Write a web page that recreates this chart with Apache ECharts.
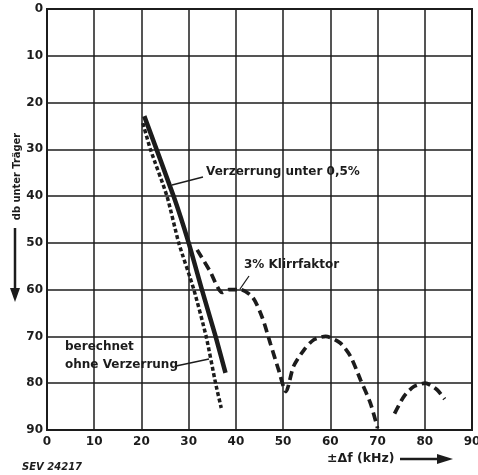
<!DOCTYPE html>
<html>
<head>
<meta charset="utf-8">
<script src="https://cdn.jsdelivr.net/npm/echarts@6/dist/echarts.min.js"></script>
<style>
html,body{margin:0;padding:0;background:#fff;}
#c{width:478px;height:475px;}
</style>
</head>
<body>
<div id="c"></div>
<script>
// Tick labels
var xTicks = [0,10,20,30,40,50,60,70,80,90];
var yTicks = [0,10,20,30,40,50,60,70,80,90];

// "Verzerrung unter 0,5%" (solid)
var solidX = [20.6, 26.8, 30.0, 32.8, 35.7, 37.8];
var solidY = [22.9, 40.0, 50.0, 60.0, 70.0, 77.8];

// "berechnet ohne Verzerrung" (dotted)
var calcX = [20.3, 21.9, 25.4, 27.9, 31.1, 33.7, 35.7, 36.9];
var calcY = [24.4, 30.0, 40.0, 50.0, 60.0, 70.0, 80.0, 85.3];

// "3% Klirrfaktor" (dashed); null = gap
var klirrX = [31.8, 34.5, 37.1, 38.5, 41.0, 43.6, 45.6, 47.3, 49.0, 50.6, 52.2, 54.4, 56.5, 59.0, 62.1, 64.3, 66.4, 68.5, 70.0, 72.0, 73.6, 75.6, 77.7, 80.1, 82.6, 84.2];
var klirrY = [51.5, 56.0, 60.6, 60.0, 60.0, 61.7, 66.0, 71.5, 77.0, 81.8, 76.4, 72.9, 70.7, 70.0, 71.4, 74.3, 79.3, 84.3, 89.6, null, 86.5, 82.8, 80.7, 80.0, 81.4, 83.4];

function pairs(xs, ys){ return xs.map(function(x,i){ return [x, ys[i]]; }); }

var INK = '#1c1c1c';
var FONT = 'DejaVu Sans';
var chart = echarts.init(document.getElementById('c'), null, {renderer:'canvas'});
chart.setOption({
  backgroundColor: '#ffffff',
  animation: false,
  grid: {left: 47, right: 6, top: 9, bottom: 45, containLabel: false, outerBoundsMode: 'none',
         show: true, borderColor: INK, borderWidth: 2},
  xAxis: {
    type: 'value', min: xTicks[0], max: xTicks[xTicks.length-1], interval: 10,
    axisLine: {show: true, onZero: false, lineStyle: {color: INK, width: 2}},
    axisTick: {show: false},
    splitLine: {show: true, lineStyle: {color: INK, width: 1.5}},
    axisLabel: {color: INK, fontFamily: FONT, fontWeight: 'bold', fontSize: 12, margin: 6}
  },
  yAxis: {
    type: 'value', inverse: true, min: yTicks[0], max: yTicks[yTicks.length-1], interval: 10,
    axisLine: {show: true, onZero: false, lineStyle: {color: INK, width: 2}},
    axisTick: {show: false},
    splitLine: {show: true, lineStyle: {color: INK, width: 1.5}},
    axisLabel: {color: INK, fontFamily: FONT, fontWeight: 'bold', fontSize: 12, margin: 4}
  },
  series: [
    {type:'line', name:'Verzerrung unter 0,5%', data: pairs(solidX, solidY), showSymbol:false, smooth:0.2,
     lineStyle:{color: INK, width: 4.5, type:'solid', cap:'butt'}},
    {type:'line', name:'berechnet ohne Verzerrung', data: pairs(calcX, calcY), showSymbol:false, smooth:0.2,
     lineStyle:{color: INK, width: 3.5, type:[4,2.5], cap:'butt'}},
    {type:'line', name:'3% Klirrfaktor', data: pairs(klirrX, klirrY), showSymbol:false, connectNulls:false, smooth:0.25,
     lineStyle:{color: INK, width: 3.7, type:[9,5], cap:'butt'}}
  ],
  graphic: [
    // annotations
    {type:'rect', shape:{x:204,y:165,width:156,height:17}, style:{fill:'#fff'}},
    {type:'text', left:206, top:166, style:{text:'Verzerrung unter 0,5%', font:'bold 12px "'+FONT+'"', fill:INK}},
    {type:'line', shape:{x1:172,y1:185,x2:203,y2:177}, style:{stroke:INK, lineWidth:1.3}},
    {type:'rect', shape:{x:242,y:258,width:96,height:17}, style:{fill:'#fff'}},
    {type:'text', left:244, top:259, style:{text:'3% Klirrfaktor', font:'bold 12px "'+FONT+'"', fill:INK}},
    {type:'line', shape:{x1:240,y1:289,x2:249,y2:276}, style:{stroke:INK, lineWidth:1.3}},
    {type:'rect', shape:{x:63,y:340,width:70,height:17}, style:{fill:'#fff'}},
    {type:'rect', shape:{x:63,y:358,width:112,height:17}, style:{fill:'#fff'}},
    {type:'text', left:65, top:341, style:{text:'berechnet', font:'bold 12px "'+FONT+'"', fill:INK}},
    {type:'text', left:65, top:359, style:{text:'ohne Verzerrung', font:'bold 12px "'+FONT+'"', fill:INK}},
    {type:'line', shape:{x1:176,y1:366,x2:209,y2:359}, style:{stroke:INK, lineWidth:1.3}},
    // y axis title with arrow
    {type:'text', x:17, y:176.5, rotation:Math.PI/2, style:{text:'db unter Träger', font:'bold 11px "DejaVu Sans Condensed"', fill:INK, align:'center', verticalAlign:'middle'}},
    {type:'line', shape:{x1:15,y1:228,x2:15,y2:292}, style:{stroke:INK, lineWidth:2.5}},
    {type:'polygon', shape:{points:[[10,288],[20,288],[15,302]]}, style:{fill:INK}},
    // x axis title with arrow
    {type:'text', left:327, top:452, style:{text:'±Δf (kHz)', font:'bold 12.5px "'+FONT+'"', fill:INK}},
    {type:'line', shape:{x1:400,y1:459,x2:440,y2:459}, style:{stroke:INK, lineWidth:2.5}},
    {type:'polygon', shape:{points:[[437,454],[437,464],[453,459]]}, style:{fill:INK}},
    // figure code
    {type:'text', left:22, top:462, style:{text:'SEV 24217', font:'italic bold 10px "'+FONT+'"', fill:INK}}
  ]
});
</script>
</body>
</html>
